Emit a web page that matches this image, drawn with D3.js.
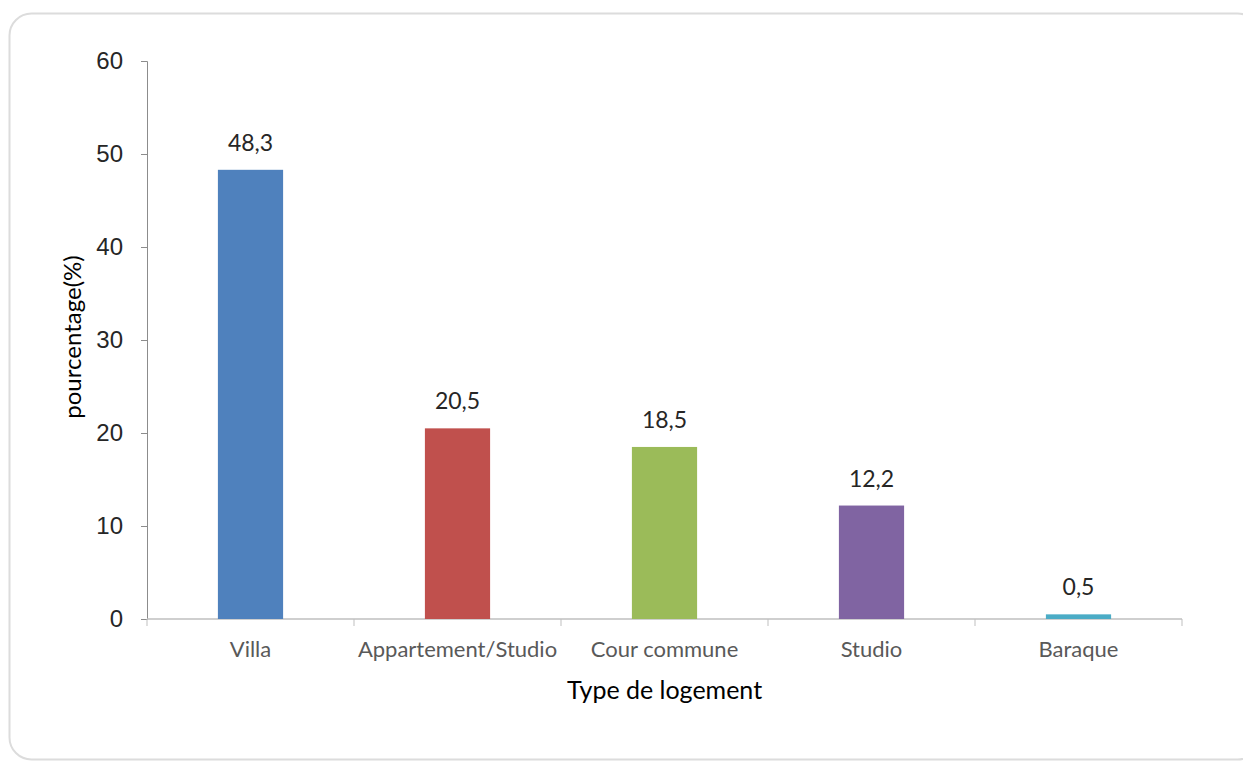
<!DOCTYPE html>
<html>
<head>
  <meta charset="utf-8">
  <script src="https://d3js.org/d3.v7.min.js"></script>
  <style>
    body { margin: 0; background: #fff; }
    svg { display: block; }
  </style>
</head>
<body>
<script>
  // data
  var categories = ["Villa", "Appartement/Studio", "Cour commune", "Studio", "Baraque"];
  var values = [48.3, 20.5, 18.5, 12.2, 0.5];
  var colors = ["#4F81BD", "#C0504D", "#9BBB59", "#8064A2", "#4BACC6"];
  var yTicks = [0, 10, 20, 30, 40, 50, 60];

  var W = 1243, H = 761;
  var margin = {left: 147, right: 61, top: 61, bottom: 142};

  var svg = d3.select("body").append("svg")
    .attr("width", W)
    .attr("height", H)
    .style("font-family", "Lato, 'Open Sans', sans-serif");

  // rounded frame
  svg.append("rect")
    .attr("x", 9.5).attr("y", 13.5)
    .attr("width", 1250).attr("height", 746)
    .attr("rx", 22)
    .attr("fill", "#fff")
    .attr("stroke", "#dcdcdc")
    .attr("stroke-width", 2);

  var x = d3.scaleBand()
    .domain(categories)
    .range([margin.left, W - margin.right]);

  var y = d3.scaleLinear()
    .domain([0, 60])
    .range([H - margin.bottom, margin.top]);

  var barW = x.bandwidth() * 0.315;

  // y axis
  var yAxis = svg.append("g")
    .attr("transform", "translate(" + margin.left + ",0)")
    .call(d3.axisLeft(y).tickValues(yTicks).tickSize(6).tickPadding(18));
  yAxis.select(".domain").attr("stroke", "#8c8c8c");
  yAxis.selectAll(".tick line").attr("stroke", "#8c8c8c");
  yAxis.selectAll(".tick text")
    .attr("fill", "#262626")
    .style("font-size", "24px");

  // x axis with ticks at category boundaries
  var x0 = H - margin.bottom;
  svg.append("line")
    .attr("x1", margin.left).attr("x2", W - margin.right)
    .attr("y1", x0).attr("y2", x0)
    .attr("stroke", "#bfbfbf").attr("stroke-width", 1.5);

  var bounds = categories.map(function (c) { return x(c); }).concat([x.range()[1]]);
  svg.selectAll(".xtick")
    .data(bounds)
    .enter().append("line")
      .attr("x1", function (d) { return d; })
      .attr("x2", function (d) { return d; })
      .attr("y1", x0).attr("y2", x0 + 7)
      .attr("stroke", "#bfbfbf");

  svg.selectAll(".xlab")
    .data(categories)
    .enter().append("text")
      .attr("x", function (d) { return x(d) + x.bandwidth() / 2; })
      .attr("y", x0 + 38)
      .attr("text-anchor", "middle")
      .attr("fill", "#595959")
      .style("font-size", "22px")
      .text(function (d) { return d; });

  // bars
  svg.selectAll(".bar")
    .data(values)
    .enter().append("rect")
      .attr("x", function (d, i) { return x(categories[i]) + (x.bandwidth() - barW) / 2; })
      .attr("y", function (d) { return y(d); })
      .attr("width", barW)
      .attr("height", function (d) { return y(0) - y(d); })
      .attr("fill", function (d, i) { return colors[i]; });

  // value labels
  svg.selectAll(".val")
    .data(values)
    .enter().append("text")
      .attr("x", function (d, i) { return x(categories[i]) + x.bandwidth() / 2; })
      .attr("y", function (d) { return y(d) - 19; })
      .attr("text-anchor", "middle")
      .attr("fill", "#262626")
      .style("font-size", "23px")
      .text(function (d) { return String(d).replace(".", ","); });

  // axis titles
  svg.append("text")
    .attr("x", (margin.left + W - margin.right) / 2)
    .attr("y", 699)
    .attr("text-anchor", "middle")
    .attr("fill", "#000")
    .style("font-size", "25px")
    .text("Type de logement");

  svg.append("text")
    .attr("transform", "translate(81,337) rotate(-90)")
    .attr("text-anchor", "middle")
    .attr("fill", "#000")
    .style("font-size", "24px")
    .text("pourcentage(%)");
</script>
</body>
</html>
